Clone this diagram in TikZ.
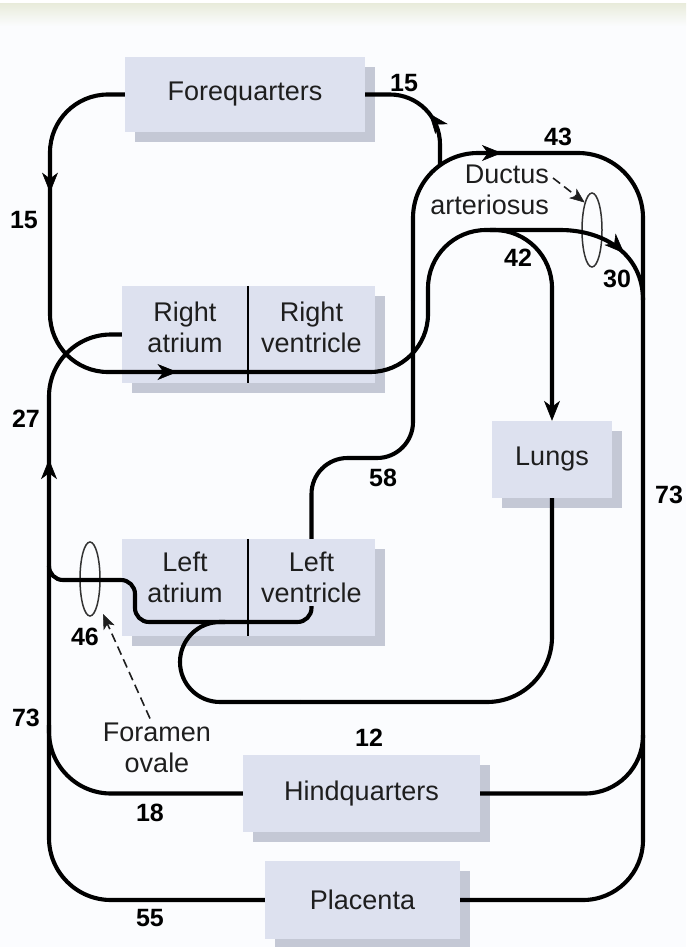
\documentclass[tikz,border=0pt]{standalone}
\usepackage{fontspec}
\setmainfont{Liberation Sans}
\usetikzlibrary{arrows.meta,shapes.geometric,shadows,decorations.markings}
\definecolor{bgc}{HTML}{FBFCFE}
\definecolor{bandc}{HTML}{E9ECDC}
\definecolor{boxc}{HTML}{DDE1EF}
\definecolor{shadc}{HTML}{C4C8D5}
\definecolor{txtc}{HTML}{1E1E1E}
\definecolor{ovalc}{HTML}{333333}
\newcommand\dgbox{\fontsize{27}{31}\selectfont}
\newcommand\dgnum{\fontsize{25}{25}\selectfont\bfseries}
\tikzset{
  box/.style={fill=boxc, inner sep=0pt, text=txtc, font=\dgbox, align=center,
    drop shadow={shadow xshift=10pt, shadow yshift=-10pt, fill=shadc, opacity=1}},
  boxtxt/.style={inner sep=0pt, text=txtc, font=\dgbox, align=center},
  num/.style={inner sep=0pt, text=black, font=\dgnum},
  flow/.style={line width=4.1pt, draw=black, line join=round},
  tipA/.tip={Stealth[length=20pt,width=16pt,inset=6pt,line width=0.6pt]},
  arrowat/.style={postaction={decorate, decoration={markings, mark=at position #1 with {\arrow{tipA}}}}},
  divider/.style={line width=1.8pt, draw=black},
  oval/.style={ellipse, draw=ovalc, line width=1.5pt, inner sep=0pt, minimum width=20pt, minimum height=74pt},
  leader/.style={draw=txtc, line width=1.6pt, dash pattern=on 9pt off 5pt, -{Stealth[length=15pt,width=12pt,inset=4pt,line width=0.5pt]}},
}
\begin{document}
\begin{tikzpicture}[x=1pt,y=-1pt]
% background
\fill[bgc] (0,0) rectangle (686,947);
\fill[white] (0,0) rectangle (686,4);
\shade[top color=bandc, bottom color=bgc] (0,4) rectangle (686,26);
\useasboundingbox (0,0) rectangle (686,947);

% boxes
\node[box, minimum width=240pt, minimum height=75pt] (FQ) at (245,94.5) {Forequarters};
\node[box, minimum width=126pt, minimum height=97pt,
  label={[boxtxt,yshift=7.5pt]center:{Right\\atrium}}] (RA) at (185,334.5) {};
\node[box, minimum width=127pt, minimum height=97pt,
  label={[boxtxt,yshift=7.5pt]center:{Right\\ventricle}}] (RV) at (311.5,334.5) {};
\node[box, minimum width=126pt, minimum height=97pt,
  label={[boxtxt,yshift=10pt]center:{Left\\atrium}}] (LA) at (185,587.5) {};
\node[box, minimum width=127pt, minimum height=97pt,
  label={[boxtxt,yshift=10pt]center:{Left\\ventricle}}] (LV) at (311.5,587.5) {};
\node[box, minimum width=120pt, minimum height=77pt] (LU) at (552,459.5) {Lungs};
\node[box, minimum width=237pt, minimum height=77pt] (HQ) at (361.5,793.5) {Hindquarters};
\node[box, minimum width=195pt, minimum height=78pt] (PL) at (362.5,900) {Placenta};
\draw[divider] (RA.north east) -- (RA.south east);
\draw[divider] (LA.north east) -- (LA.south east);

% shunts
\node[oval] (DA) at (592,230) {};
\node[oval] (FO) at (90,579) {};

% junction coordinates
\coordinate (fqJ) at (440,166);
\coordinate (daJ) at (490,230);
\coordinate (aoA) at (413,300);
\coordinate (aoB) at (643,600);
\coordinate (hqJ) at (643,735);
\coordinate (luA) at (300,702);
\coordinate (lvOut) at (311.5,606);
\coordinate (hqL) at (49,725);
\coordinate (foJ) at (49,566);

% superior return + pulmonary trunk to lungs
\draw[flow, rounded corners=58pt, arrowat=148pt, arrowat=430pt, -{tipA}]
  (FQ.west) -- (50,94.5) -- (50,372) -- (428,372) -- (428,230) -- (552,230) -- (LU.north);
% ductus arteriosus
\draw[flow, arrowat=140pt] (daJ) -- (560,230) .. controls (605,230) and (643,255) .. (643,300);
% aorta
\draw[flow, rounded corners=36pt] (LV.north) -- (311.5,458) -- (413,458) -- (aoA);
\draw[flow, rounded corners=65pt, arrowat=208pt] (aoA) -- (413,153) -- (643,153) -- (aoB);
\draw[flow, rounded corners=60pt] (aoB) -- (643,900) -- (PL.east);
% forequarters branch
\draw[flow, rounded corners=50pt, arrowat=55pt] (fqJ) -- (440,94.5) -- (FQ.east);
% hindquarters
\draw[flow, rounded corners=58pt] (hqJ) -- (643,793.5) -- (HQ.east);
\draw[flow, rounded corners=62pt] (HQ.west) -- (49,793.5) -- (hqL);
% inferior return from placenta
\draw[flow, rounded corners=62pt, arrowat=630pt] (PL.west) -- (49,900) -- (49,334.5) -- (RA.west);
% foramen ovale route
\draw[flow, rounded corners=14pt] (lvOut) -- (311.5,622) -- (135,622) -- (135,580) -- (49,580) -- (foJ);
% pulmonary return
\draw[flow, rounded corners=65pt] (LU.south) -- (552,702) -- (luA);
\draw[flow, rounded corners=40pt] (luA) -- (180,702) -- (180,622) -- (225,622);

% text labels
\node[boxtxt, align=right, anchor=north east] (DAl) at (549,165) {Ductus\\arteriosus};
\node[boxtxt, anchor=north] (FOl) at (157,722.5) {Foramen\\ovale};
\coordinate (DAs) at (553,178);
\coordinate (FOt) at (103,614);
\draw[leader] (DAs) -- (DA.105);
\draw[leader] ([xshift=-7pt,yshift=4pt]FOl.north) -- (FOt);

% numbers
\node[num] (n15a) at (404,83) {15};
\node[num] (n15b) at (24,220) {15};
\node[num] (n43) at (558,137) {43};
\node[num] (n42) at (518,258) {42};
\node[num] (n30) at (617,279) {30};
\node[num] (n27) at (26,419) {27};
\node[num] (n58) at (383,478) {58};
\node[num] (n73r) at (669,495) {73};
\node[num] (n46) at (85,637) {46};
\node[num] (n73l) at (26,718) {73};
\node[num] (n12) at (369,738) {12};
\node[num] (n18) at (150,813) {18};
\node[num] (n55) at (150,918) {55};
\end{tikzpicture}
\end{document}
